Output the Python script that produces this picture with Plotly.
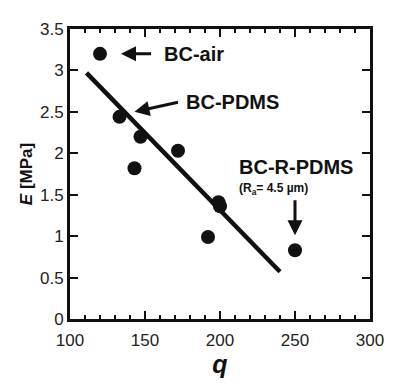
import plotly.graph_objects as go

# Data
q_vals = [120, 133, 147, 143, 172, 199, 200, 192, 250]
E_vals = [3.20, 2.44, 2.20, 1.82, 2.03, 1.41, 1.36, 0.99, 0.83]
fit_q = [111, 240]
fit_E = [2.97, 0.57]

FONT = "Liberation Sans, Arial, Helvetica, sans-serif"

fig = go.Figure()
fig.add_trace(go.Scatter(x=fit_q, y=fit_E, mode="lines",
                         line=dict(color="#111111", width=4.5), showlegend=False))
fig.add_trace(go.Scatter(x=q_vals, y=E_vals, mode="markers",
                         marker=dict(color="#111111", size=14), showlegend=False))

axis_common = dict(showline=True, linewidth=3, linecolor="#111111", mirror="ticks",
                   ticks="inside", tickcolor="#111111", tickwidth=2,
                   showgrid=False, zeroline=False,
                   tickfont=dict(family=FONT, size=17, color="#222222"))

fig.update_xaxes(range=[100, 300], dtick=50, ticklen=8, ticklabelstandoff=4,
                 minor=dict(ticks="inside", dtick=10, ticklen=4, tickcolor="#111111", tickwidth=2, showgrid=False),
                 title=dict(text="<b><i>q</i></b>", font=dict(family=FONT, size=25, color="#111111"), standoff=4),
                 **axis_common)
fig.update_yaxes(range=[0, 3.5], dtick=0.5, ticklen=8,
                 title=dict(text="<b><i>E</i> [MPa]</b>", font=dict(family=FONT, size=17, color="#111111"), standoff=4),
                 **axis_common)

ann_font = dict(family=FONT, size=20, color="#111111")
arrow = dict(showarrow=True, arrowhead=2, arrowsize=1, arrowwidth=3,
             arrowcolor="#111111", axref="x", ayref="y", xref="x", yref="y")

fig.add_annotation(x=134, y=3.20, ax=155, ay=3.20, text="", **arrow)
fig.add_annotation(x=161, y=3.20, xref="x", yref="y", text="<b>BC-air</b>",
                   showarrow=False, xanchor="left", yanchor="middle", font=ann_font)

fig.add_annotation(x=143, y=2.50, ax=173, ay=2.62, text="", **arrow)
fig.add_annotation(x=176, y=2.62, xref="x", yref="y", text="<b>BC-PDMS</b>",
                   showarrow=False, xanchor="left", yanchor="middle", font=ann_font)

fig.add_annotation(x=211, y=1.83, xref="x", yref="y", text="<b>BC-R-PDMS</b>",
                   showarrow=False, xanchor="left", yanchor="middle", font=ann_font)
fig.add_annotation(x=211, y=1.57, xref="x", yref="y",
                   text="<b>(R<sub>a</sub>= 4.5 µm)</b>",
                   showarrow=False, xanchor="left", yanchor="middle",
                   font=dict(family=FONT, size=12, color="#111111"))
fig.add_annotation(x=250, y=1.01, ax=250, ay=1.45, text="", **arrow)

# page body adds an 8px margin, so the figure is sized to fit the 396x384 window
fig.update_layout(width=388, height=376, margin=dict(l=62, r=23, t=12, b=60),
                  plot_bgcolor="white", paper_bgcolor="white", showlegend=False)

fig.write_html("out.html")
